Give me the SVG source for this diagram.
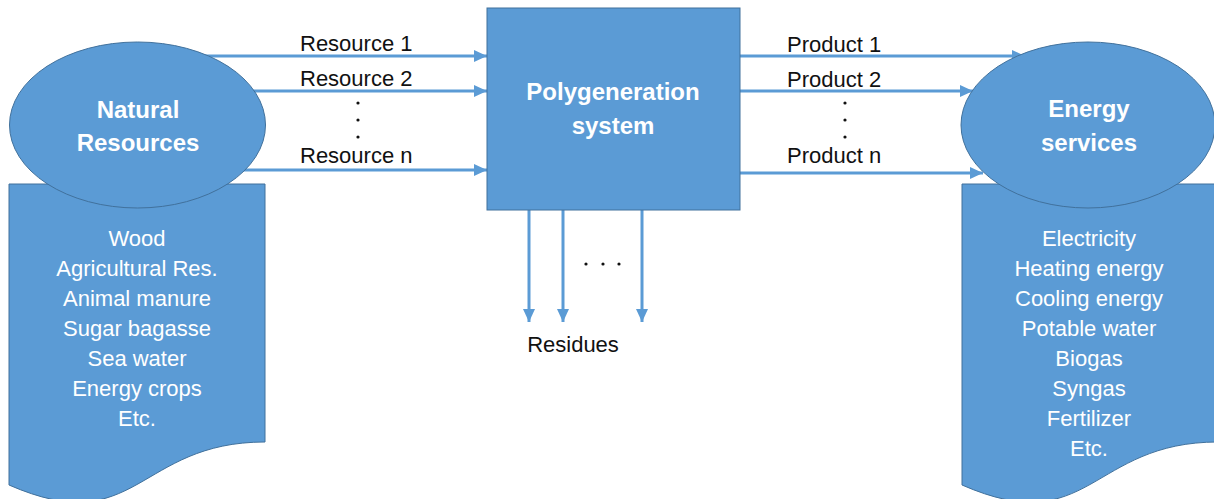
<svg xmlns="http://www.w3.org/2000/svg" width="1214" height="499" viewBox="0 0 1214 499">
<defs>
<style>
.shape{fill:#5B9BD5;stroke:#41719C;stroke-width:1}
.conn{stroke:#5B9BD5;stroke-width:3;fill:none;marker-end:url(#ah)}
.lbl{font-family:"Liberation Sans",Arial,sans-serif;font-size:22px;fill:#111}
.title{font-family:"Liberation Sans",Arial,sans-serif;font-size:24px;font-weight:bold;fill:#fff;text-anchor:middle}
.list{font-family:"Liberation Sans",Arial,sans-serif;font-size:22px;fill:#fff;text-anchor:middle}
.dot{fill:#111}
</style>
<marker id="ah" markerUnits="userSpaceOnUse" markerWidth="14" markerHeight="14" viewBox="0 0 14 14" refX="13" refY="7" orient="auto">
<path d="M0,1 L13,7 L0,13 Z" fill="#5B9BD5"/>
</marker>
</defs>
<rect width="1214" height="499" fill="#fff"/>
<g id="connectors">
<line class="conn" x1="200" y1="56" x2="487" y2="56"/>
<line class="conn" x1="240" y1="91" x2="487" y2="91"/>
<line class="conn" x1="240" y1="170" x2="487" y2="170"/>
<line class="conn" x1="740" y1="56" x2="1025" y2="56"/>
<line class="conn" x1="740" y1="91" x2="973" y2="91"/>
<line class="conn" x1="740" y1="173" x2="983" y2="173"/>
<line class="conn" x1="529" y1="210" x2="529" y2="322"/>
<line class="conn" x1="563" y1="210" x2="563" y2="322"/>
<line class="conn" x1="642" y1="210" x2="642" y2="322"/>
</g>
<g id="natural-resources-list">
<path class="shape" d="M9,184 H265 V442 C137,442 137,541 9,485 Z"/>
<text class="list" x="137" y="246">Wood</text>
<text class="list" x="137" y="276">Agricultural Res.</text>
<text class="list" x="137" y="306">Animal manure</text>
<text class="list" x="137" y="336">Sugar bagasse</text>
<text class="list" x="137" y="366">Sea water</text>
<text class="list" x="137" y="396">Energy crops</text>
<text class="list" x="137" y="426">Etc.</text>
</g>
<g id="energy-services-list">
<path class="shape" d="M962,184 H1218 V442 C1090,442 1090,541 962,485 Z"/>
<text class="list" x="1089" y="246">Electricity</text>
<text class="list" x="1089" y="276">Heating energy</text>
<text class="list" x="1089" y="306">Cooling energy</text>
<text class="list" x="1089" y="336">Potable water</text>
<text class="list" x="1089" y="366">Biogas</text>
<text class="list" x="1089" y="396">Syngas</text>
<text class="list" x="1089" y="426">Fertilizer</text>
<text class="list" x="1089" y="456">Etc.</text>
</g>
<g id="natural-resources">
<ellipse class="shape" cx="137.5" cy="125" rx="128" ry="83"/>
<text class="title" x="138" y="118">Natural</text>
<text class="title" x="138" y="151">Resources</text>
</g>
<g id="energy-services">
<ellipse class="shape" cx="1088" cy="125" rx="127" ry="83"/>
<text class="title" x="1089" y="117">Energy</text>
<text class="title" x="1089" y="151">services</text>
</g>
<g id="polygeneration-system">
<rect class="shape" x="487" y="8" width="253" height="202"/>
<text class="title" x="613" y="100">Polygeneration</text>
<text class="title" x="613" y="134">system</text>
</g>
<g id="labels">
<text class="lbl" x="300" y="51">Resource 1</text>
<text class="lbl" x="300" y="86">Resource 2</text>
<text class="lbl" x="300" y="163">Resource n</text>
<text class="lbl" x="787" y="52">Product 1</text>
<text class="lbl" x="787" y="87">Product 2</text>
<text class="lbl" x="787" y="163">Product n</text>
<text class="lbl" x="573" y="352" text-anchor="middle">Residues</text>
<circle class="dot" cx="358" cy="103" r="1.6"/>
<circle class="dot" cx="358" cy="120" r="1.6"/>
<circle class="dot" cx="358" cy="137" r="1.6"/>
<circle class="dot" cx="845" cy="103" r="1.6"/>
<circle class="dot" cx="845" cy="120" r="1.6"/>
<circle class="dot" cx="845" cy="137" r="1.6"/>
<circle class="dot" cx="586" cy="264" r="1.6"/>
<circle class="dot" cx="603" cy="264" r="1.6"/>
<circle class="dot" cx="619" cy="264" r="1.6"/>
</g>
</svg>
